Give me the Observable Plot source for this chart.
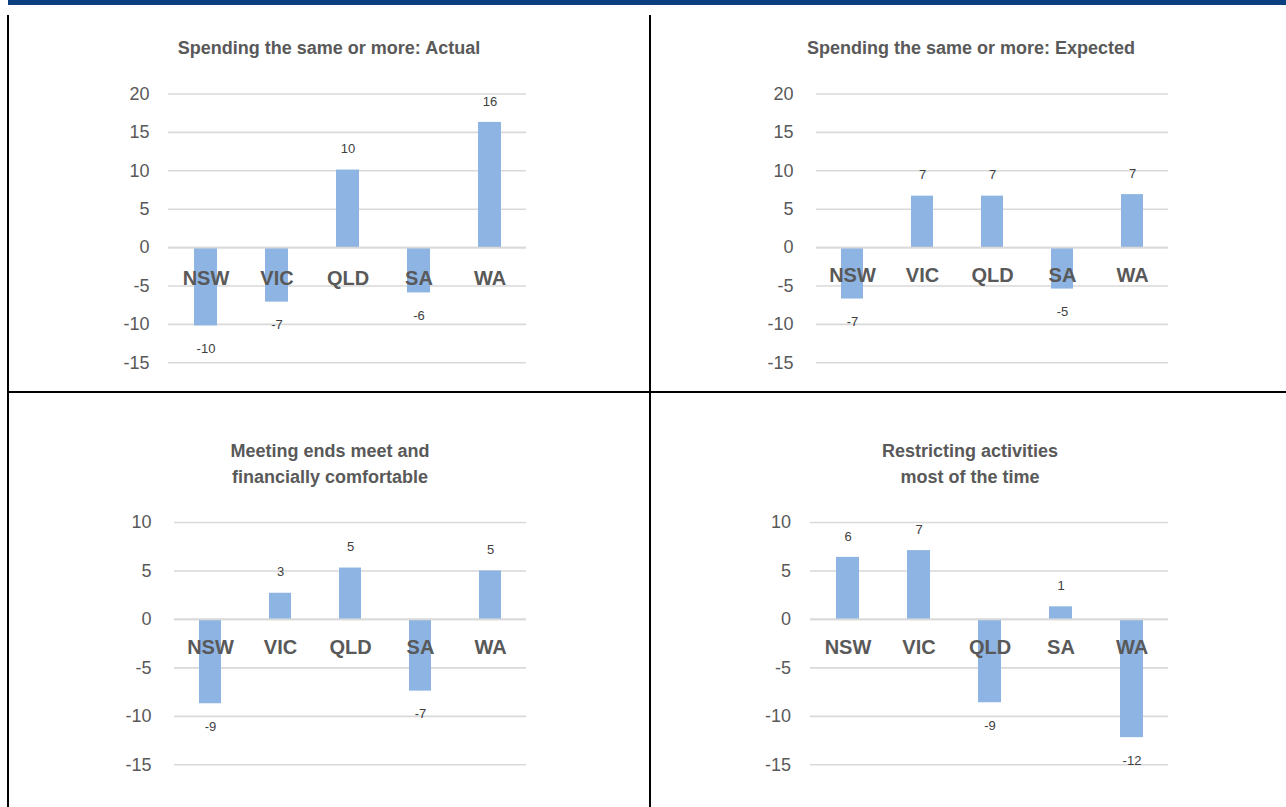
<!DOCTYPE html>
<html>
<head>
<meta charset="utf-8">
<script src="https://cdn.jsdelivr.net/npm/d3@7"></script>
<script src="https://cdn.jsdelivr.net/npm/@observablehq/plot@0.6"></script>
<style>
  html, body { margin: 0; padding: 0; background: #fff; }
  body { width: 1286px; height: 807px; position: relative; overflow: hidden; font-family: "Liberation Sans", Arial, sans-serif; }
  .abs { position: absolute; }
  .topbar { left: 8px; top: 0; width: 1278px; height: 5px; background: #0c3f7f; }
  .vline { width: 2px; background: #000; z-index: 5; }
  .hline { height: 2px; background: #000; z-index: 5; }
  .title { color: #595959; font-weight: bold; font-size: 18px; line-height: 26px; text-align: center; width: 500px; white-space: nowrap; }
  svg { background: transparent !important; }
</style>
</head>
<body>
<div class="abs topbar"></div>
<div class="abs vline" style="left:7px; top:15px; height:792px;"></div>
<div class="abs vline" style="left:649px; top:15px; height:792px;"></div>
<div class="abs hline" style="left:7px; top:391px; width:1279px;"></div>
<div id="charts"></div>
<script>
// ---- data ----
const categories = ["NSW", "VIC", "QLD", "SA", "WA"];
const actualValues = [-10.2, -7.1, 10.1, -5.9, 16.3];
const expectedValues = [-6.7, 6.7, 6.7, -5.4, 6.9];
const endsMeetValues = [-8.7, 2.7, 5.3, -7.4, 5.0];
const restrictingValues = [6.4, 7.1, -8.6, 1.3, -12.2];
const titleActual = ["Spending the same or more: Actual"];
const titleExpected = ["Spending the same or more: Expected"];
const titleEndsMeet = ["Meeting ends meet and", "financially comfortable"];
const titleRestricting = ["Restricting activities", "most of the time"];
const yTicksTop = [-15, -10, -5, 0, 5, 10, 15, 20];
const yTicksBottom = [-15, -10, -5, 0, 5, 10];

// ---- layout ----
const panels = [
  {values: actualValues, title: titleActual, ticks: yTicksTop,
   left: 9, top: 0, width: 640, height: 390, mL: 159, mR: 123, mT: 93.5, mB: 27.7, pad: 19, catDy: 31,
   titleCx: 329, titleCy: 48},
  {values: expectedValues, title: titleExpected, ticks: yTicksTop,
   left: 651, top: 0, width: 635, height: 390, mL: 165, mR: 118, mT: 93.5, mB: 27.7, pad: 23, catDy: 28,
   titleCx: 971, titleCy: 48},
  {values: endsMeetValues, title: titleEndsMeet, ticks: yTicksBottom,
   left: 9, top: 393, width: 640, height: 414, mL: 165, mR: 123, mT: 129, mB: 42.7, pad: 23, catDy: 28,
   titleCx: 330, titleCy: 463.5},
  {values: restrictingValues, title: titleRestricting, ticks: yTicksBottom,
   left: 651, top: 393, width: 635, height: 414, mL: 159, mR: 118, mT: 129, mB: 42.7, pad: 19.5, catDy: 28,
   titleCx: 970, titleCy: 463.5}
];

const container = document.getElementById("charts");
for (const p of panels) {
  const data = categories.map((c, i) => ({cat: c, value: p.values[i]}));
  const pos = data.filter(d => d.value >= 0);
  const neg = data.filter(d => d.value < 0);
  const chart = Plot.plot({
    width: p.width,
    height: p.height,
    marginLeft: p.mL, marginRight: p.mR, marginTop: p.mT, marginBottom: p.mB,
    style: {fontFamily: "Liberation Sans, Arial, sans-serif", color: "#595959", background: "transparent"},
    x: {domain: categories, paddingInner: 0.68, paddingOuter: 0.34, axis: null},
    y: {domain: [d3.min(p.ticks), d3.max(p.ticks)]},
    marks: [
      Plot.ruleY(p.ticks, {stroke: "#d9d9d9", strokeWidth: 1.6}),
      Plot.axisY(p.ticks, {tickSize: 0, tickPadding: p.pad, fontSize: 18, fill: "#595959", tickFormat: d => String(d), label: null}),
      Plot.barY(data, {x: "cat", y: "value", fill: "#8eb4e3"}),
      Plot.ruleY([0], {stroke: "#d9d9d9", strokeWidth: 1.6}),
      Plot.text(pos, {x: "cat", y: "value", text: d => String(Math.round(d.value)), dy: -21, fontSize: 13, fill: "#404040"}),
      Plot.text(neg, {x: "cat", y: "value", text: d => String(Math.round(d.value)), dy: 23, fontSize: 13, fill: "#404040"}),
      Plot.text(categories, {x: d => d, y: () => 0, text: d => d, dy: p.catDy, fontSize: 20, fontWeight: "bold", fill: "#595959"})
    ]
  });
  chart.style.position = "absolute";
  chart.style.left = p.left + "px";
  chart.style.top = p.top + "px";
  chart.style.maxWidth = "none";
  container.appendChild(chart);

  const t = document.createElement("div");
  t.className = "abs title";
  t.style.left = (p.titleCx - 250) + "px";
  t.style.top = (p.titleCy - p.title.length * 13) + "px";
  t.innerHTML = p.title.join("<br>");
  document.body.appendChild(t);
}
</script>
</body>
</html>
